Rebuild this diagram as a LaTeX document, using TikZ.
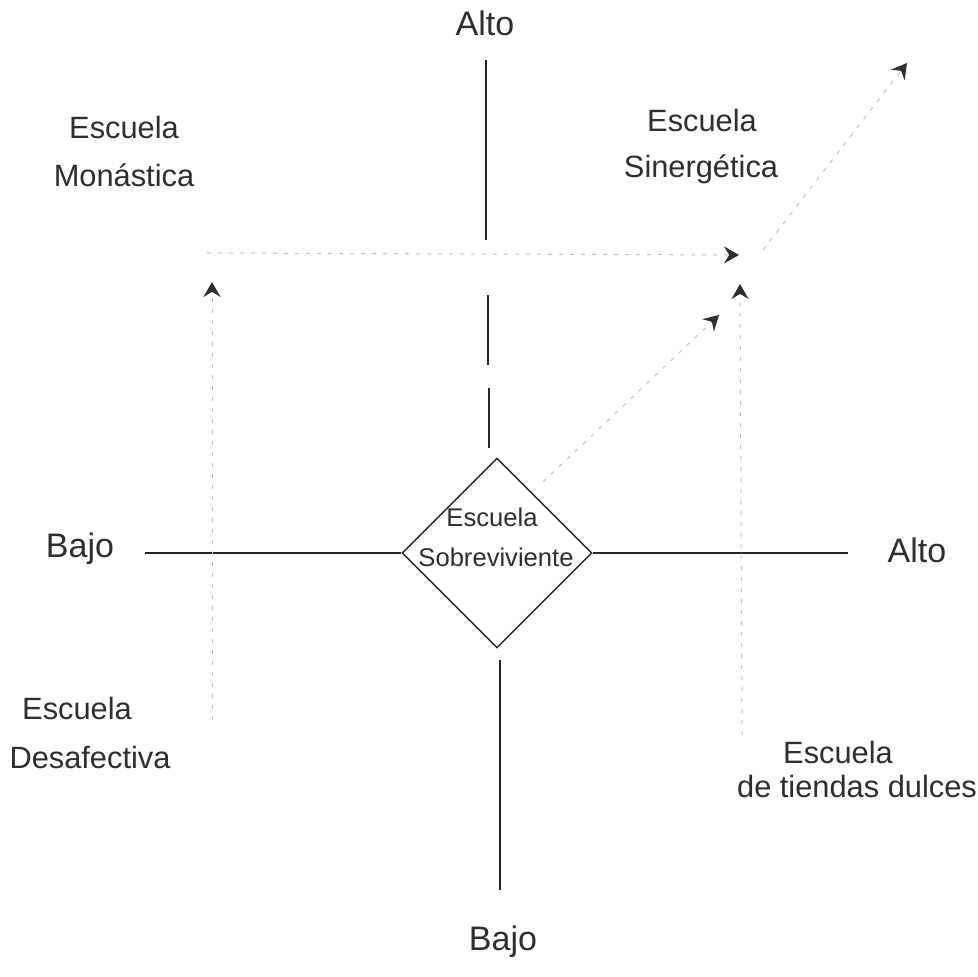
\documentclass[tikz,border=0pt]{standalone}
\usepackage{fontspec}
\setmainfont{Liberation Sans}
\usetikzlibrary{arrows.meta,shapes.geometric}
\begin{document}
\begin{tikzpicture}[x=0.5pt,y=-0.5pt,
 axisline/.style={line width=0.75pt, black!85},
 faint/.style={line width=0.5pt, black!24, dash pattern=on 2pt off 3.5pt},
 tipstyle/.style={-{Stealth[length=7.5pt,width=8.5pt,inset=2.6pt,line width=0.9pt,color=black!82]}},
 lbl/.style={font=\fontsize{15.4}{18}\selectfont, text=black!82, inner sep=0pt, anchor=base},
 axl/.style={font=\fontsize{17}{20}\selectfont, text=black!82, inner sep=0pt, anchor=base},
 dtxt/.style={font=\fontsize{12.8}{15}\selectfont, text=black!82, inner sep=0pt, anchor=base}]
\useasboundingbox (0,0) rectangle (978,977);
\fill[white] (0,0) rectangle (978,977);

% diamond
\node[draw, diamond, minimum width=95pt, minimum height=95pt, inner sep=0pt, line width=0.7pt, black!85] (d) at (497,553) {};
\node[dtxt] (d1) at (492,526) {Escuela};
\node[dtxt] (d2) at (496,566) {Sobreviviente};

% axes
\coordinate (vt1) at (486,60);
\coordinate (vt2) at (486,240);
\coordinate (vt3) at (488,295);
\coordinate (vt4) at (488,365);
\coordinate (vt5) at (489,388);
\coordinate (vt6) at (489,448);
\coordinate (vb1) at (500,660);
\coordinate (vb2) at (500,890);
\coordinate (hl) at (145,553);
\coordinate (hr) at (848,553);
\draw[axisline] (vt1) -- (vt2);
\draw[axisline] (vt3) -- (vt4);
\draw[axisline] (vt5) -- (vt6);
\draw[axisline] (vb1) -- (vb2);
\draw[axisline] (hl) -- (d.west);
\draw[axisline] (d.east) -- (hr);

% faint dotted arrows
\coordinate (lv0) at (212,720);
\coordinate (lv1) at (212,282);
\coordinate (hh0) at (207,253);
\coordinate (hh1) at (739,255);
\coordinate (rv0) at (742,735);
\coordinate (rv1) at (740,284);
\coordinate (dg0) at (543,482);
\coordinate (dg1) at (719,315);
\coordinate (dh0) at (763,250);
\coordinate (dh1) at (907,63);
\draw[faint,tipstyle] (lv0) -- (lv1);
\draw[faint,tipstyle] (hh0) -- (hh1);
\draw[faint,tipstyle] (rv0) -- (rv1);
\draw[faint,tipstyle] (dg0) -- (dg1);
\draw[faint,tipstyle] (dh0) -- (dh1);

% axis labels
\node[axl] (at) at (485,36) {Alto};
\node[axl] (ab) at (503,950) {Bajo};
\node[axl] (al) at (80,557) {Bajo};
\node[axl] (ar) at (917,562) {Alto};

% quadrant labels
\node[lbl] (m1) at (124,139) {Escuela};
\node[lbl] (m2) at (124,187) {Monástica};
\node[lbl] (s1) at (702,132) {Escuela};
\node[lbl] (s2) at (701,178) {Sinergética};
\node[lbl] (f1) at (77,719) {Escuela};
\node[lbl] (f2) at (90,768) {Desafectiva};
\node[lbl] (t1) at (838,763) {Escuela};
\node[lbl] (t2) at (857,797) {de tiendas dulces};
\end{tikzpicture}
\end{document}
